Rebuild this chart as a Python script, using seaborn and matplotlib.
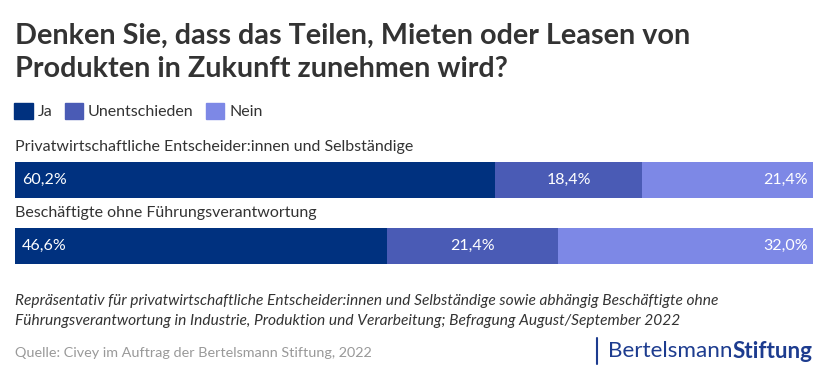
import matplotlib.pyplot as plt
import matplotlib.patches as mpatches
import numpy as np
import pandas as pd
import seaborn as sns

# data
groups = ["Privatwirtschaftliche Entscheider:innen und Selbständige",
          "Beschäftigte ohne Führungsverantwortung"]
answers = ["Ja", "Unentschieden", "Nein"]
ja = [60.2, 46.6]
unentschieden = [18.4, 21.4]
nein = [21.4, 32.0]
colors = ["#00317f", "#4a5bb5", "#7d88e6"]

sns.set_theme(style="white")
plt.rcParams['font.family'] = ['Lato', 'DejaVu Sans']

df = pd.DataFrame({"group": groups, "Ja": ja, "Unentschieden": unentschieden, "Nein": nein})
df["cum_ja"] = df["Ja"]
df["cum_unent"] = df["Ja"] + df["Unentschieden"]
df["cum_nein"] = df["cum_unent"] + df["Nein"]

fig = plt.figure(figsize=(8.28, 3.82), dpi=100)
ax = fig.add_axes([15 / 828, 1 - 264 / 382, 798 / 828, 102 / 382])

# stacked bars drawn as overlapping cumulative bars
for col, c in zip(["cum_nein", "cum_unent", "cum_ja"], colors[::-1]):
    sns.barplot(data=df, x=col, y="group", orient="h", color=c, width=0.55,
                saturation=1, linewidth=0, edgecolor="none", ax=ax)

ax.set_xlim(0, df["cum_nein"].max())
ax.set_ylim(1.275, -0.275)
ax.axis("off")

fmt = lambda v: f"{v:.1f}%".replace(".", ",")
for i in range(len(groups)):
    ax.text(0.85, i, fmt(ja[i]), color="white", fontsize=11.5, va="center", ha="left")
    mid = ja[i] + unentschieden[i] / 2
    ax.text(mid, i, fmt(unentschieden[i]), color="white", fontsize=11.5, va="center", ha="center")
    ax.text(df["cum_nein"][i] - 0.6, i, fmt(nein[i]), color="white", fontsize=11.5,
            va="center", ha="right")
    ax.text(0, i - 0.5, groups[i], color="#333333", fontsize=11.5, va="center", ha="left")

fig.text(15 / 828, 1 - 52 / 382,
         "Denken Sie, dass das Teilen, Mieten oder Leasen von\nProdukten in Zukunft zunehmen wird?",
         fontsize=20.7, fontweight="bold", color="#333333", va="center", ha="left",
         linespacing=1.34)

handles = [mpatches.Patch(color=c, label=a) for a, c in zip(answers, colors)]
fig.legend(handles=handles, loc="center left", bbox_to_anchor=(0 / 828, 1 - 111 / 382),
           ncol=3, frameon=False, fontsize=11.5, handlelength=1.15, handleheight=1.15,
           handletextpad=0.32, columnspacing=0.75, labelcolor="#333333")

fig.text(15 / 828, 1 - 311 / 382,
         "Repräsentativ für privatwirtschaftliche Entscheider:innen und Selbständige sowie abhängig Beschäftigte ohne\n"
         "Führungsverantwortung in Industrie, Produktion und Verarbeitung; Befragung August/September 2022",
         fontsize=11.2, style="italic", color="#333333", va="center", ha="left", linespacing=1.5)

fig.text(15 / 828, 1 - 353 / 382, "Quelle: Civey im Auftrag der Bertelsmann Stiftung, 2022",
         fontsize=10.4, color="#999999", va="center", ha="left")

fig.add_artist(plt.Line2D([597 / 828, 597 / 828], [1 - 338 / 382, 1 - 364 / 382],
                          color="#1d3c8f", lw=1.5))
t1 = fig.text(813 / 828, 1 - 351 / 382, "Stiftung", fontsize=16.2, fontweight="bold",
              color="#1d3c8f", va="center", ha="right")
fig.canvas.draw()
bb = t1.get_window_extent()
fig.text(bb.x0 / fig.bbox.width, 1 - 351 / 382, "Bertelsmann", fontsize=16.2,
         color="#1d3c8f", va="center", ha="right")

fig.savefig("out.png", dpi=100)
